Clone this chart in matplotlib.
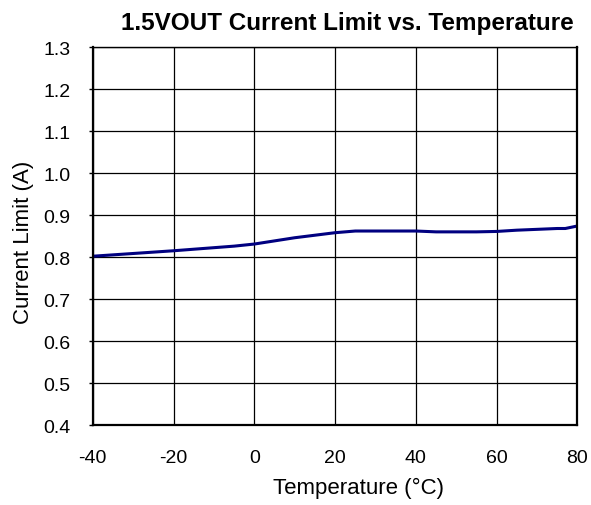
import matplotlib
matplotlib.use('Agg')
import matplotlib.pyplot as plt

# Data
temperature = [-40, -20, -5, 0, 10, 20, 25, 40, 45, 55, 60, 65, 70, 75, 77, 80]
current_limit = [0.802, 0.815, 0.826, 0.831, 0.846, 0.858, 0.862, 0.862,
                 0.860, 0.860, 0.861, 0.864, 0.866, 0.868, 0.868, 0.874]
x_ticks = [-40, -20, 0, 20, 40, 60, 80]
y_ticks = [0.4, 0.5, 0.6, 0.7, 0.8, 0.9, 1.0, 1.1, 1.2, 1.3]

plt.rcParams['font.family'] = ['Liberation Sans', 'DejaVu Sans']

fig = plt.figure(figsize=(5.91, 5.06), dpi=100)
ax = fig.add_axes([0.157, 0.158, 0.820, 0.747])

ax.plot(temperature, current_limit, color='#000080', linewidth=2.2)

ax.set_xlim(-40, 80)
ax.set_ylim(0.4, 1.3)
ax.set_xticks(x_ticks)
ax.set_yticks(y_ticks)
ax.set_xticklabels([str(t) for t in x_ticks])
ax.set_yticklabels([f"{v:.1f}" for v in y_ticks])
ax.tick_params(axis='both', labelsize=14, length=3, width=1, color='black')
ax.tick_params(axis='y', pad=13)
ax.tick_params(axis='x', length=0, pad=17)

ax.grid(True, color='black', linewidth=0.9)
ax.set_axisbelow(True)
for side in ['left', 'bottom', 'right']:
    ax.spines[side].set_linewidth(1.6)
ax.spines['top'].set_linewidth(1.0)

ax.set_xlabel('Temperature (°C)', fontsize=16, labelpad=8, x=0.548)
ax.set_ylabel('Current Limit (A)', fontsize=16, labelpad=7, y=0.485)
ax.set_title('1.5VOUT Current Limit vs. Temperature', fontsize=17.5,
             fontweight='bold', pad=13, x=0.525)

plt.savefig('out.png', dpi=100)
plt.close('all')
